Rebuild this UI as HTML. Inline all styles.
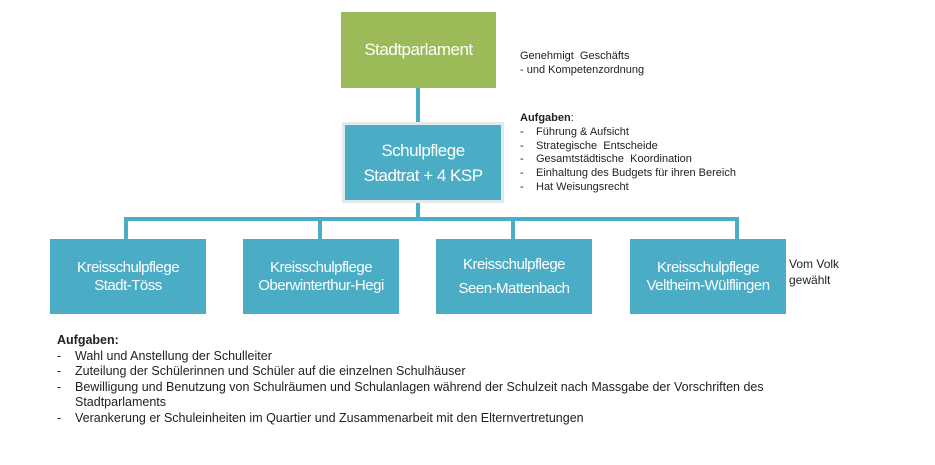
<!DOCTYPE html>
<html><head><style>
body{margin:0;width:935px;height:465px;background:#fff;position:relative;overflow:hidden;font-family:"Liberation Sans",sans-serif}
.b{position:absolute;color:#fff;display:flex;align-items:center;justify-content:center;text-align:center;box-sizing:border-box;letter-spacing:-0.5px}
.l{position:absolute;background:#4bacc6}
.t{position:absolute;font-size:11px;color:#222;line-height:14px;white-space:nowrap}
.t div span{display:inline-block;width:16px}
.bt{position:absolute;left:57px;top:333px;font-size:12.5px;color:#222;line-height:15.5px}
.bt div{padding-left:18px;text-indent:-18px}
.bt span{display:inline-block;width:18px;text-indent:0}
</style></head><body>
<div class="b" style="left:341px;top:12px;width:155px;height:76px;background:#9bbb59;font-size:17px">Stadtparlament</div>
<div class="l" style="left:416px;top:88px;width:4px;height:35px"></div>
<div class="b" style="left:342px;top:122px;width:162px;height:81px;background:#4bacc6;border:3px solid #e3e8ea;font-size:17px;line-height:25px">Schulpflege<br>Stadtrat + 4 KSP</div>
<div class="l" style="left:416px;top:203px;width:4px;height:16px"></div>
<div class="l" style="left:124px;top:217px;width:615px;height:4px"></div>
<div class="l" style="left:124px;top:217px;width:4px;height:22px"></div>
<div class="l" style="left:318px;top:217px;width:4px;height:22px"></div>
<div class="l" style="left:511px;top:217px;width:4px;height:22px"></div>
<div class="l" style="left:735px;top:217px;width:4px;height:22px"></div>
<div class="b" style="left:50px;top:239px;width:156px;height:75px;background:#4bacc6;font-size:15px;line-height:18px">Kreisschulpflege<br>Stadt-Töss</div>
<div class="b" style="left:243px;top:239px;width:156px;height:75px;background:#4bacc6;font-size:15px;line-height:18px">Kreisschulpflege<br>Oberwinterthur-Hegi</div>
<div class="b" style="left:436px;top:239px;width:156px;height:75px;background:#4bacc6;font-size:15px;line-height:24px">Kreisschulpflege<br>Seen-Mattenbach</div>
<div class="b" style="left:630px;top:239px;width:156px;height:75px;background:#4bacc6;font-size:15px;line-height:18px">Kreisschulpflege<br>Veltheim-Wülflingen</div>
<div class="t" style="left:789px;top:256px;font-size:12px;line-height:16px">Vom Volk<br>gewählt</div>
<div class="t" style="left:520px;top:49px">Genehmigt&nbsp; Geschäfts<br>- und Kompetenzordnung</div>
<div class="t" style="left:520px;top:112px;line-height:13.8px"><b>Aufgaben</b>:
<div><span>-</span>Führung &amp; Aufsicht</div>
<div><span>-</span>Strategische&nbsp; Entscheide</div>
<div><span>-</span>Gesamtstädtische&nbsp; Koordination</div>
<div><span>-</span>Einhaltung des Budgets für ihren Bereich</div>
<div><span>-</span>Hat Weisungsrecht</div></div>
<div class="bt"><b>Aufgaben:</b>
<div><span>-</span>Wahl und Anstellung der Schulleiter</div>
<div><span>-</span>Zuteilung der Schülerinnen und Schüler auf die einzelnen Schulhäuser</div>
<div style="width:760px"><span>-</span>Bewilligung und Benutzung von Schulräumen und Schulanlagen während der Schulzeit nach Massgabe der Vorschriften des Stadtparlaments</div>
<div><span>-</span>Verankerung er Schuleinheiten im Quartier und Zusammenarbeit mit den Elternvertretungen</div></div>
</body></html>
